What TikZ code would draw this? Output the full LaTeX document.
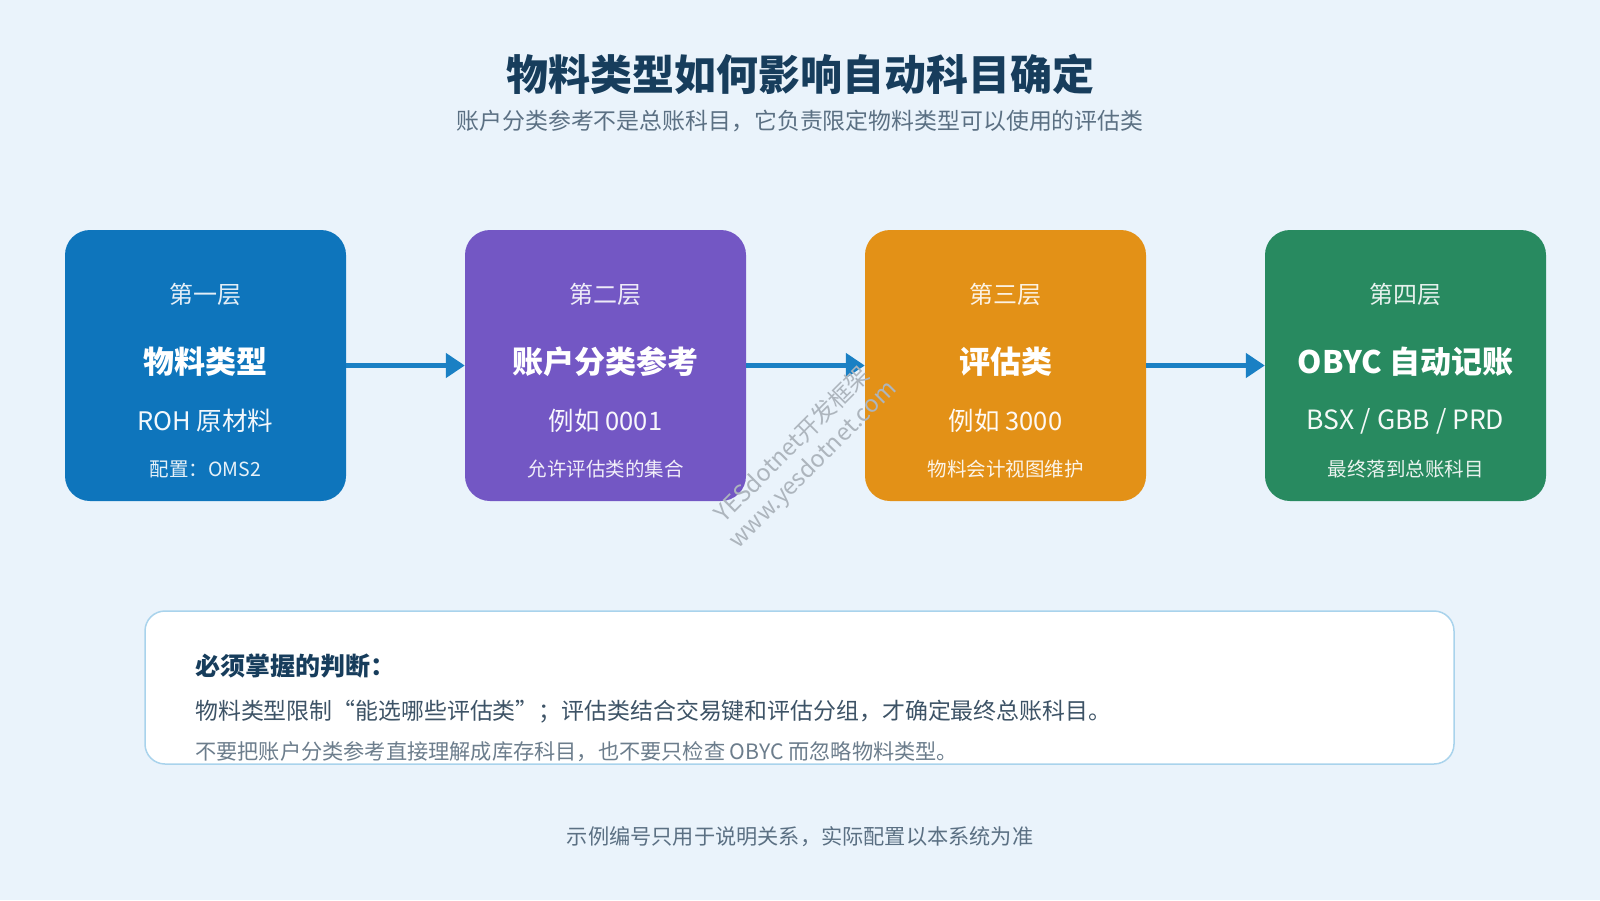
\documentclass[tikz,border=0pt]{standalone}
\usepackage{fontspec}
\setmainfont{Noto Sans CJK SC}
\usetikzlibrary{arrows.meta}
\definecolor{bg}{HTML}{EAF3FB}
\definecolor{cA}{HTML}{0E75BC}
\definecolor{cB}{HTML}{7357C4}
\definecolor{cC}{HTML}{E39117}
\definecolor{cD}{HTML}{288A60}
\definecolor{navy}{HTML}{173D5C}
\definecolor{subgray}{HTML}{5B7083}
\definecolor{linetwo}{HTML}{3D5366}
\definecolor{linethree}{HTML}{6C7D8C}
\definecolor{arrowc}{HTML}{1A80C4}
\definecolor{noteborder}{HTML}{A9D3EC}
\definecolor{wm}{HTML}{ADB5BD}
\newcommand\fsz[2]{\fontsize{#1}{#2}\selectfont}
\tikzset{
  layer/.style={rounded corners=25pt, minimum width=281pt, minimum height=271pt, inner sep=0pt, draw=none},
  txt/.style={inner sep=0pt, text=white},
  flow/.style={draw=arrowc, line width=5pt, -{Triangle[length=19pt,width=24pt]}},
  note/.style={rounded corners=20pt, minimum width=1309pt, minimum height=153pt, inner sep=0pt, draw=noteborder, line width=1.5pt, fill=white},
}
\begin{document}
\begin{tikzpicture}[x=1pt,y=-1pt]
\useasboundingbox[fill=bg] (0,0) rectangle (1600,900);

% title
\node[inner sep=0pt, text=navy] (title) at (800,74.5) {\fsz{42}{50}\bfseries 物料类型如何影响自动科目确定};
\node[inner sep=0pt, text=subgray] (subtitle) at (800,121.5) {\fsz{22.9}{27}账户分类参考不是总账科目，它负责限定物料类型可以使用的评估类};

% boxes
\node[layer, fill=cA] (b1) at (205.5,365.5) {};
\node[layer, fill=cB] (b2) at (605.5,365.5) {};
\node[layer, fill=cC] (b3) at (1005.5,365.5) {};
\node[layer, fill=cD] (b4) at (1405.5,365.5) {};

% box texts
\node[txt, text=white!88!cA] (b1a) at (205.5,294) {\fsz{24}{28}第一层};
\node[txt] (b1b) at (205.5,362) {\fsz{31}{36}\bfseries 物料类型};
\node[txt, text=white!95!cA] (b1c) at (205.5,421) {\fsz{25.5}{30}ROH 原材料};
\node[txt, text=white!90!cA] (b1d) at (205.5,469) {\fsz{19.5}{24}配置：OMS2};

\node[txt, text=white!88!cB] (b2a) at (605.5,294) {\fsz{24}{28}第二层};
\node[txt] (b2b) at (605.5,362) {\fsz{31}{36}\bfseries 账户分类参考};
\node[txt, text=white!95!cB] (b2c) at (605.5,421) {\fsz{25.5}{30}例如 0001};
\node[txt, text=white!90!cB] (b2d) at (605.5,469) {\fsz{19.5}{24}允许评估类的集合};

\node[txt, text=white!88!cC] (b3a) at (1005.5,294) {\fsz{24}{28}第三层};
\node[txt] (b3b) at (1005.5,362) {\fsz{31}{36}\bfseries 评估类};
\node[txt, text=white!95!cC] (b3c) at (1005.5,421) {\fsz{25.5}{30}例如 3000};
\node[txt, text=white!90!cC] (b3d) at (1005.5,469) {\fsz{19.5}{24}物料会计视图维护};

\node[txt, text=white!88!cD] (b4a) at (1405.5,294) {\fsz{24}{28}第四层};
\node[txt] (b4b) at (1405.5,362) {\fsz{31}{36}\bfseries OBYC 自动记账};
\node[txt, text=white!95!cD] (b4c) at (1405.5,421) {\fsz{26.5}{30}BSX / GBB / PRD};
\node[txt, text=white!90!cD] (b4d) at (1405.5,469) {\fsz{19.5}{24}最终落到总账科目};

% arrows
\draw[flow] (b1.east) -- (b2.west);
\draw[flow] (b2.east) -- (b3.west);
\draw[flow] (b3.east) -- (b4.west);

% watermark
\node[inner sep=0pt, text=wm, rotate=45, align=center, font={\fsz{23.5}{28}}] (wmk) at (803,455) {YESdotnet开发框架\\www.yesdotnet.com};

% note box
\node[note] (nb) at (799.5,687.5) {};
\node[inner sep=0pt, anchor=west, text=navy] (n1) at (195,666) {\fsz{25}{30}\bfseries 必须掌握的判断：};
\node[inner sep=0pt, anchor=west, text=linetwo] (n2) at (195,712) {\fsz{22.9}{27}物料类型限制“能选哪些评估类”；评估类结合交易键和评估分组，才确定最终总账科目。};
\node[inner sep=0pt, anchor=west, text=linethree] (n3) at (195,752) {\fsz{21.2}{25}不要把账户分类参考直接理解成库存科目，也不要只检查 OBYC 而忽略物料类型。};

% footer
\node[inner sep=0pt, text=subgray] (foot) at (800,837) {\fsz{21.2}{26}示例编号只用于说明关系，实际配置以本系统为准};
\end{tikzpicture}
\end{document}
